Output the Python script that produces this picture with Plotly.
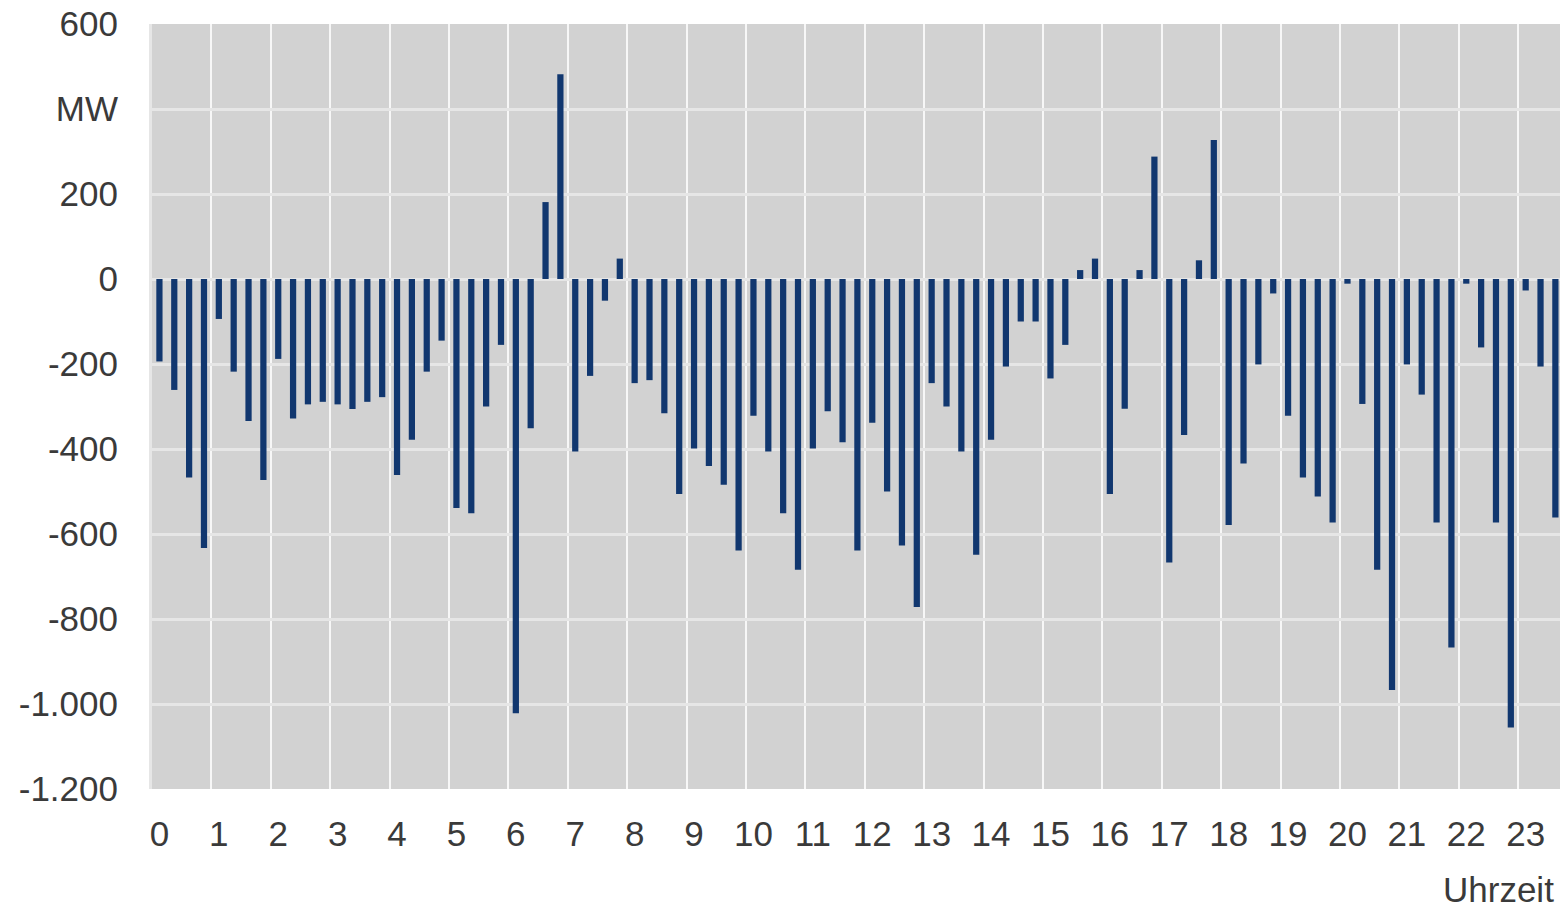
import plotly.graph_objects as go

# Quarter-hour values (MW), 95 visible intervals (00:00 .. 23:30)
hour_00_05 = [-194, -261, -467, -633,
              -94, -218, -334, -473,
              -188, -328, -295, -289,
              -295, -306, -289, -278,
              -461, -378, -218, -145,
              -539, -551, -300, -155]
hour_06_11 = [-1022, -351, 181, 482,
              -406, -228, -51, 48,
              -245, -238, -316, -506,
              -399, -440, -484, -639,
              -322, -406, -551, -684,
              -399, -311, -384, -639]
hour_12_17 = [-338, -500, -627, -772,
              -245, -300, -406, -649,
              -378, -206, -100, -100,
              -234, -155, 21, 48,
              -506, -305, 21, 288,
              -667, -367, 44, 327]
hour_18_23 = [-579, -434, -201, -34,
              -322, -467, -512, -573,
              -11, -294, -684, -967,
              -201, -272, -573, -867,
              -11, -161, -573, -1055,
              -27, -206, -561]
values = hour_00_05 + hour_06_11 + hour_12_17 + hour_18_23
positions = list(range(len(values)))

hour_labels = [str(h) for h in range(24)]
hour_positions = [4 * h for h in range(24)]
hour_boundaries = [4 * h - 0.5 for h in range(1, 24)]

y_tickvals = [600, 400, 200, 0, -200, -400, -600, -800, -1000, -1200]
y_ticktext = ["600", "MW", "200", "0", "-200", "-400", "-600", "-800", "-1.000", "-1.200"]

font_family = "Liberation Sans, Arial, sans-serif"
text_color = "#3a3a3a"

fig = go.Figure(go.Bar(
    x=positions, y=values, width=0.42,
    marker=dict(color="#11376f", line=dict(width=0)),
))

fig.update_layout(
    width=1560, height=900,
    margin=dict(l=144, r=0, t=16, b=119, autoexpand=False),
    paper_bgcolor="white",
    plot_bgcolor="#d2d2d2",
    showlegend=False,
    font=dict(family=font_family, size=35, color=text_color),
    xaxis=dict(
        range=[-0.5, 94.85], automargin=False,
        tickmode="array", tickvals=hour_positions, ticktext=hour_labels,
        showgrid=False, zeroline=False, showline=False,
        ticks="outside", ticklen=14, tickcolor="rgba(0,0,0,0)",
        tickfont=dict(size=35, color=text_color),
        ticklabeloverflow="allow",
        minor=dict(tickmode="array", tickvals=hour_boundaries, showgrid=True,
                   gridcolor="#f7f7f7", gridwidth=2, ticks=""),
    ),
    yaxis=dict(
        range=[-1200, 600], automargin=False,
        tickmode="array", tickvals=y_tickvals, ticktext=y_ticktext,
        showgrid=True, gridcolor="#e6e6e6", gridwidth=3,
        zeroline=True, zerolinecolor="#e6e6e6", zerolinewidth=3,
        showline=True, linecolor="#e6e6e6", linewidth=3,
        ticks="outside", ticklen=24, tickcolor="rgba(0,0,0,0)",
        tickfont=dict(size=35, color=text_color),
        ticklabeloverflow="allow",
    ),
    annotations=[dict(
        text="Uhrzeit", xref="paper", yref="paper", x=1, y=0,
        xanchor="right", yanchor="middle", xshift=-12, yshift=-100,
        showarrow=False, font=dict(size=35, color=text_color, family=font_family),
    )],
)

fig.write_html("out.html")
